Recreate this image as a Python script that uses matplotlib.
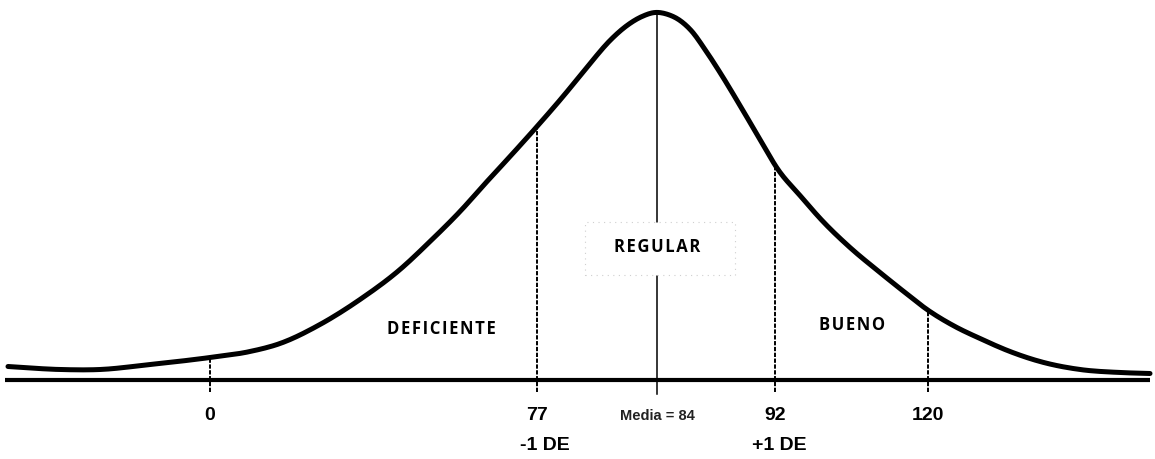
import numpy as np
import matplotlib
matplotlib.use("Agg")
import matplotlib.pyplot as plt
from matplotlib.patches import Rectangle

# bell curve: x position, height above the baseline
curve_x = [8, 60, 100, 150, 210, 250, 280, 320, 360, 400, 430, 460, 487, 510,
           537, 563, 590, 610, 627, 642, 655, 668, 680, 692, 705, 720, 740,
           760, 778, 800, 823, 850, 880, 905, 927, 955, 980, 1010, 1040, 1080,
           1120, 1150]
curve_y = [13, 10, 10, 15, 22, 28, 36, 55, 80, 110, 138, 168, 198, 223,
           253, 283, 316, 339, 354, 363, 367, 365, 359, 348, 330, 307, 274,
           240, 210, 184, 158, 132, 107, 87, 70, 53, 41, 28, 18, 10,
           7, 6]

# cut points on the scale and where they sit along the drawing
cut_values = [0, 77, 84, 92, 120]
cut_pos = [210, 537, 657, 775, 928]
cut_labels = ["0", "77", "Media = 84", "92", "120"]

sd_labels = ["-1 DE", "+1 DE"]
sd_pos = [545, 779]

categories = ["DEFICIENTE", "REGULAR", "BUENO"]
cat_pos = [441, 657, 852]
cat_height = [50, 132, 54]

bold_sans = ["Liberation Sans", "DejaVu Sans"]


def smooth(xs, ys, n=12):
    # cubic hermite through the traced points so the line has no corners
    xs = np.asarray(xs, float)
    ys = np.asarray(ys, float)
    m = np.gradient(ys, xs)
    out_x, out_y = [], []
    for i in range(len(xs) - 1):
        h = xs[i + 1] - xs[i]
        t = np.linspace(0, 1, n, endpoint=False)
        h00 = 2 * t**3 - 3 * t**2 + 1
        h10 = t**3 - 2 * t**2 + t
        h01 = -2 * t**3 + 3 * t**2
        h11 = t**3 - t**2
        out_x.extend(xs[i] + t * h)
        out_y.extend(h00 * ys[i] + h10 * h * m[i] + h01 * ys[i + 1] + h11 * h * m[i + 1])
    out_x.append(xs[-1])
    out_y.append(ys[-1])
    return out_x, out_y


def main():
    fig = plt.figure(figsize=(11.55, 4.59), dpi=100)
    ax = fig.add_axes([0, 0, 1, 1])
    ax.set_xlim(0, 1155)
    ax.set_ylim(-79.5, 379.5)
    ax.axis("off")

    # baseline and curve
    ax.plot([5, 1150], [0, 0], color="black", lw=3.0, solid_capstyle="butt")
    sx, sy = smooth(curve_x, curve_y)
    ax.plot(sx, sy, color="black", lw=3.6,
            solid_joinstyle="round", solid_capstyle="round")

    # vertical markers up to the curve
    for val, pos in zip(cut_values, cut_pos):
        top = np.interp(pos, sx, sy)
        if val == 84:
            ax.plot([pos, pos], [-14, top], color="black", lw=1.1)
        else:
            ax.plot([pos, pos], [-12, top], color="black", lw=1.4,
                    linestyle=(0, (2.2, 0.8)))

    # number labels under the baseline
    for lab, pos in zip(cut_labels, cut_pos):
        if lab.startswith("Media"):
            ax.text(pos, -37, lab, ha="center", va="center", fontsize=10.5,
                    fontweight="bold", family=bold_sans, color="#222222")
        else:
            ax.text(pos, -36, lab, ha="center", va="center", fontsize=14,
                    fontweight="bold", family=bold_sans)

    for lab, pos in zip(sd_labels, sd_pos):
        ax.text(pos, -66, lab, ha="center", va="center", fontsize=14,
                fontweight="bold", family=bold_sans)

    # white box behind REGULAR that breaks the mean line
    ax.add_patch(Rectangle((585, 105), 150, 53, facecolor="white",
                           edgecolor="#cfcfcf", lw=0.8, linestyle=(0, (1, 4)),
                           zorder=3))

    for cat, pos, h in zip(categories, cat_pos, cat_height):
        spaced = "\u200a".join(cat)
        ax.text(pos, h, spaced, ha="center", va="center", fontsize=12,
                fontweight="bold", family=["Open Sans", "DejaVu Sans"],
                zorder=4)

    fig.savefig("out.png", dpi=100, facecolor="white")


if __name__ == "__main__":
    main()
